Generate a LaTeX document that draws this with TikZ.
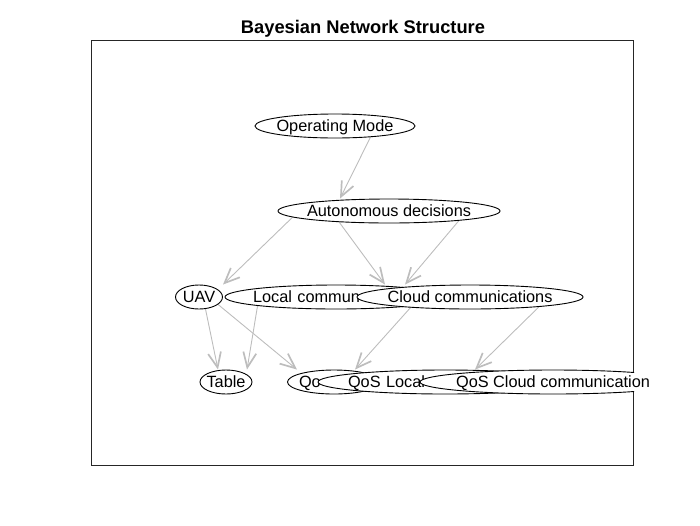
\documentclass[tikz,border=0pt]{standalone}
\usepackage{fontspec}
\setmainfont{Liberation Sans}
\usepackage{tikz}
\usetikzlibrary{arrows.meta,shapes.geometric}
\definecolor{edgegray}{gray}{0.74}
\newcommand{\bnfont}{\fontsize{16.3}{19}\selectfont}
\newcommand{\bntitlefont}{\fontsize{18.3}{22}\selectfont\bfseries}
\pgfdeclarelayer{edges}
\pgfsetlayers{edges,main}
\tikzset{
    %Define standard arrow tip
    >={Straight Barb[length=15pt,width=13pt,line width=1.7pt]},
    %Define style for nodes
    bnnode/.style={
           ellipse,
           draw=black, line width=0.9pt,
           fill=white,
           inner xsep=-20pt, inner ysep=0pt,
           minimum height=24pt,
           text height=12pt, text depth=1pt,
           font=\bnfont},
    bnlabel/.style={
           inner sep=0pt,
           text height=12pt, text depth=1pt,
           font=\bnfont},
    % Define arrow style
    lnk/.style={
           ->,
           color=edgegray,
           line width=0.9pt}
}
\begin{document}
\begin{tikzpicture}[x=1pt,y=-1pt,node/.style={bnnode}]
\useasboundingbox (0,0) rectangle (700,525);
\node[font=\bntitlefont, anchor=base](0) at (363,33){Bayesian Network Structure};
\draw[black!85, line width=0.8pt] (91.5,40) rectangle (633.5,465.5);
\node[node, minimum width=160pt](1) at (335,126){Operating Mode};
\node[node, minimum width=222pt](2) at (389,211){Autonomous decisions};
\node[node, minimum width=47pt](3) at (199,297){UAV};
\node[node, minimum width=222pt, text width=166pt, align=left](4) at (336,297){Local commun};
\node[node, minimum width=226pt](5) at (470,297){Cloud communications};
\node[node, minimum width=52pt](6) at (226,382){Table};
\node[node, minimum width=93pt, text width=70pt, align=left](7) at (334,382){Qo};
\node[node, minimum width=254pt, text width=194pt, align=left](8) at (445,382){QoS Local};
\begin{scope}
\clip (91.5,40) rectangle (634.2,466);
\node[node, minimum width=266pt](9) at (553,382){\phantom{QoS Cloud communication}};
\end{scope}
\node[bnlabel](9t) at (9){QoS Cloud communication};
\begin{pgfonlayer}{edges}
\path[lnk]
	([xshift=41pt]1.center) edge ([xshift=-49pt]2.north)
	([xshift=-90pt]2.center) edge ([xshift=24pt]3.north)
	([xshift=-58pt]2.center) edge ([xshift=49pt]4.north)
	([xshift=78pt]2.center) edge ([xshift=-65pt]5.north)
	([xshift=4pt]3.center) edge ([xshift=-8pt]6.north)
	([xshift=-77pt]4.center) edge ([xshift=21pt]6.north)
	([xshift=10pt]3.center) edge ([xshift=-37pt]7.north)
	([xshift=-50pt]5.center) edge ([xshift=-90pt]8.north)
	([xshift=79pt]5.center) edge ([xshift=-78pt]9.north);
\end{pgfonlayer}
\end{tikzpicture}
\end{document}
